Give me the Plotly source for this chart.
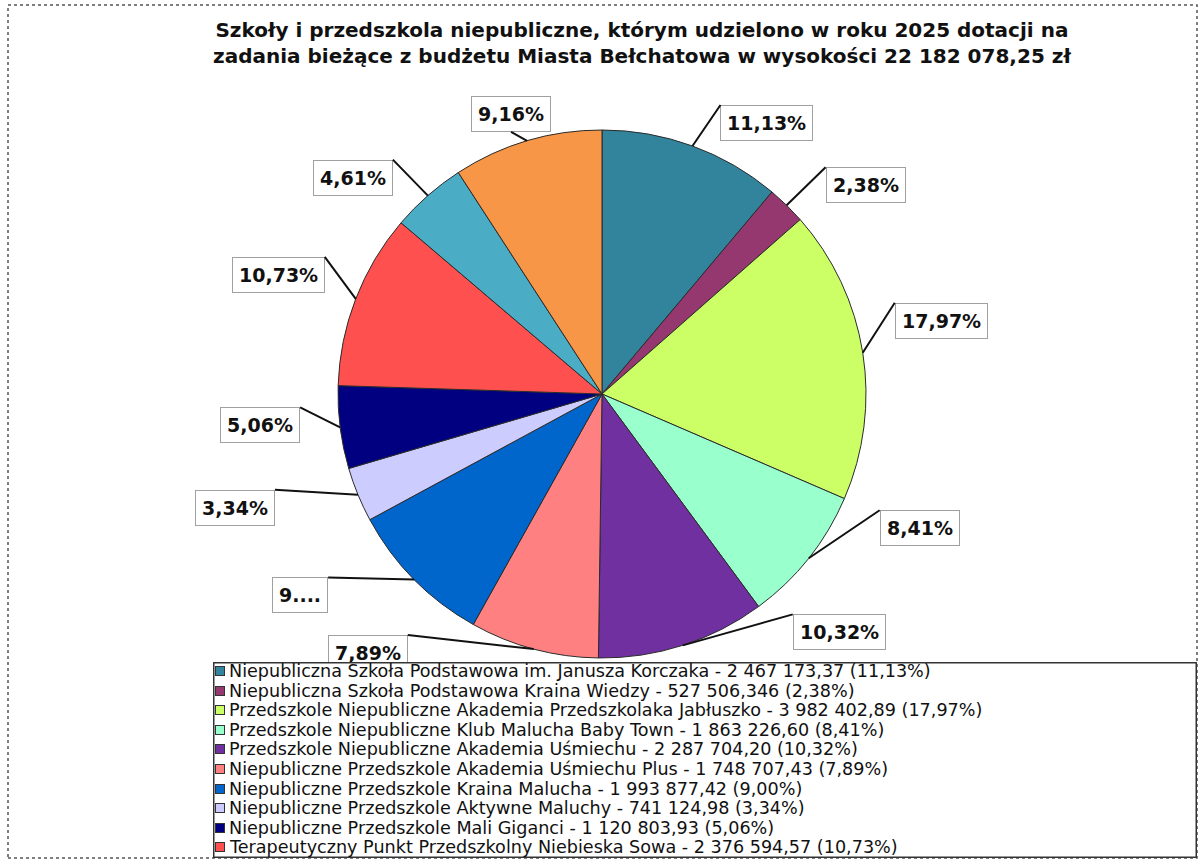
import math
import plotly.graph_objects as go

# ---------------- data ----------------
names = [
    "Niepubliczna Szkoła Podstawowa im. Janusza Korczaka",
    "Niepubliczna Szkoła Podstawowa Kraina Wiedzy",
    "Przedszkole Niepubliczne Akademia Przedszkolaka Jabłuszko",
    "Przedszkole Niepubliczne Klub Malucha Baby Town",
    "Przedszkole Niepubliczne Akademia Uśmiechu",
    "Niepubliczne Przedszkole Akademia Uśmiechu Plus",
    "Niepubliczne Przedszkole Kraina Malucha",
    "Niepubliczne Przedszkole Aktywne Maluchy",
    "Niepubliczne Przedszkole Mali Giganci",
    "Terapeutyczny Punkt Przedszkolny Niebieska Sowa",
    "Placówka 11",
    "Placówka 12",
]
amounts_text = [
    "2 467 173,37", "527 506,346", "3 982 402,89", "1 863 226,60", "2 287 704,20",
    "1 748 707,43", "1 993 877,42", "741 124,98", "1 120 803,93", "2 376 594,57",
    "", "",
]
values = [
    2467173.37, 527506.346, 3982402.89, 1863226.60, 2287704.20,
    1748707.43, 1993877.42, 741124.98, 1120803.93, 2376594.57,
    1021500.0, 2030000.0,
]
pct_legend = ["11,13%", "2,38%", "17,97%", "8,41%", "10,32%", "7,89%",
              "9,00%", "3,34%", "5,06%", "10,73%", "4,61%", "9,16%"]
pct_labels = ["11,13%", "2,38%", "17,97%", "8,41%", "10,32%", "7,89%",
              "9....", "3,34%", "5,06%", "10,73%", "4,61%", "9,16%"]
colors = ["#31849B", "#953870", "#CCFF66", "#99FFCC", "#7030A0", "#FF8080",
          "#0066CC", "#CCCCFF", "#000080", "#FF5050", "#4BACC6", "#F79646"]
legend_count = 10  # the original legend shows only the first 10 entries

title_text = ("Szkoły i przedszkola niepubliczne, którym udzielono w roku 2025 dotacji na<br>"
              "zadania bieżące z budżetu Miasta Bełchatowa w wysokości 22 182 078,25 zł")

# ---------------- layout geometry ----------------
W, H = 1202, 861
cx, cy, R = 602, 394, 264  # pie centre (px from top-left) and radius

dom_x = [(cx - R) / W, (cx + R) / W]
dom_y = [(H - cy - R) / H, (H - cy + R) / H]

# label placement (Excel "best fit" style): pixel offset of the box anchor from the
# slice's outer mid-point, plus which corner of the box the leader line meets
label_place = [
    (28, -41, "left", "top"), (39, -38, "left", "top"), (32, -50, "left", "top"),
    (71, -48, "left", "top"), (110, -31, "left", "top"), (-126, -14, "right", "top"),
    (-86, -2, "right", "top"), (-83, -5, "right", "top"), (-40, -20, "right", "top"),
    (-31, -42, "right", "top"), (-35, -36, "right", "top"), (-16, -9, "center", "bottom"),
]

fig = go.Figure()
fig.add_trace(go.Pie(
    labels=names, values=values, sort=False, direction="clockwise", rotation=0,
    marker=dict(colors=colors, line=dict(color="#2b2b2b", width=1)),
    textinfo="none", hoverinfo="label+value+percent", showlegend=False,
    domain=dict(x=dom_x, y=dom_y),
))

font_family = "DejaVu Sans, sans-serif"

annotations = []
total = sum(values)
cum = 0.0
for i, v in enumerate(values):
    mid = (cum + v / 2) / total
    cum += v
    th = 2 * math.pi * mid
    ex = (cx + R * math.sin(th)) / W
    ey = (H - cy + R * math.cos(th)) / H
    ax, ay, xa, ya = label_place[i]
    annotations.append(dict(
        x=ex, y=ey, xref="paper", yref="paper", text=pct_labels[i],
        showarrow=True, arrowhead=0, arrowwidth=2, arrowcolor="#111",
        ax=ax, ay=ay, standoff=0, xanchor=xa, yanchor=ya,
        font=dict(family=font_family, size=19, color="#111", weight="bold"),
        bgcolor="white", bordercolor="#a0a0a0", borderwidth=1, borderpad=6,
    ))

# title
annotations.append(dict(
    x=642 / W, y=1 - 16 / H, xref="paper", yref="paper", xanchor="center", yanchor="top",
    text="<b>" + title_text + "</b>", showarrow=False, align="center",
    font=dict(family=font_family, size=20, color="#111"),
))

# legend box (an annotation so it covers the lower labels, as in the original)
lx0, ly0, lx1, ly1 = 213, 662, 1196, 857
annotations.append(dict(
    x=lx0 / W, y=(H - ly0) / H, xref="paper", yref="paper", xanchor="left", yanchor="top",
    text=" ", showarrow=False, width=lx1 - lx0 - 6, height=ly1 - ly0 - 6, borderpad=2,
    bgcolor="white", bordercolor="#333", borderwidth=1.5,
))
row0, step = 671, 19.6
for i in range(legend_count):
    yc = (H - (row0 + i * step)) / H
    annotations.append(dict(
        x=215 / W, y=yc, xref="paper", yref="paper", xanchor="left", yanchor="middle",
        text=" ", showarrow=False, width=8, height=8, borderpad=0,
        bgcolor=colors[i], bordercolor="#333", borderwidth=1,
    ))
    annotations.append(dict(
        x=228 / W, y=yc, xref="paper", yref="paper", xanchor="left", yanchor="middle",
        text=f"{names[i]} - {amounts_text[i]} ({pct_legend[i]})", showarrow=False,
        font=dict(family=font_family, size=17.6, color="#111"), borderpad=0,
    ))

shapes = [dict(
    type="rect", xref="paper", yref="paper",
    x0=8 / W, x1=1197 / W, y0=(H - 858) / H, y1=(H - 5) / H,
    line=dict(color="#555", width=1.5, dash="dot"), layer="below",
)]

fig.update_layout(
    width=W, height=H, margin=dict(l=0, r=0, t=0, b=0),
    paper_bgcolor="white", plot_bgcolor="white",
    annotations=annotations, shapes=shapes, showlegend=False,
)

fig.write_html("out.html", config={"displayModeBar": False},
               post_script="document.body.style.margin='0px';")
